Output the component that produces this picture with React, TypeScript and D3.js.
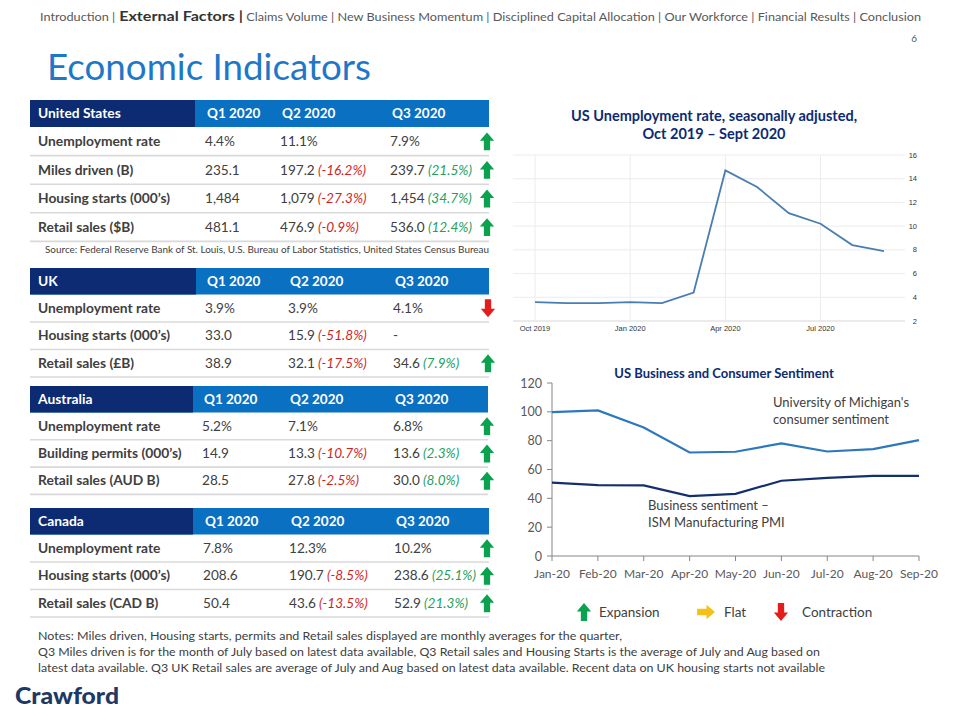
import React from 'react';
import * as d3 from 'd3';

// ---------------- DATA ----------------
const NAV_ITEMS = ['Introduction', 'External Factors', 'Claims Volume', 'New Business Momentum ', 'Disciplined Capital Allocation', 'Our Workforce', 'Financial Results', 'Conclusion'];
const NAV_ACTIVE = 'External Factors';
const PAGE_NUMBER = '6';
const TITLE = 'Economic Indicators';
const QUARTERS = ['Q1 2020', 'Q2 2020', 'Q3 2020'];

const US_NAME = 'United States';
const US_LABELS = ['Unemployment rate', 'Miles driven (B)', 'Housing starts (000\u2019s)', 'Retail sales ($B)'];
const US_Q1 = ['4.4%', '235.1', '1,484', '481.1'];
const US_Q2 = ['11.1%', '197.2', '1,079', '476.9'];
const US_Q2_CHG = ['', '(-16.2%)', '(-27.3%)', '(-0.9%)'];
const US_Q3 = ['7.9%', '239.7', '1,454', '536.0'];
const US_Q3_CHG = ['', '(21.5%)', '(34.7%)', '(12.4%)'];
const US_ARROWS = ['up', 'up', 'up', 'up'];
const US_SOURCE = 'Source: Federal Reserve Bank of St. Louis, U.S. Bureau of Labor Statistics, United States Census Bureau';

const UK_NAME = 'UK';
const UK_LABELS = ['Unemployment rate', 'Housing starts (000\u2019s)', 'Retail sales (\u00a3B)'];
const UK_Q1 = ['3.9%', '33.0', '38.9'];
const UK_Q2 = ['3.9%', '15.9', '32.1'];
const UK_Q2_CHG = ['', '(-51.8%)', '(-17.5%)'];
const UK_Q3 = ['4.1%', '-', '34.6'];
const UK_Q3_CHG = ['', '', '(7.9%)'];
const UK_ARROWS = ['down', '', 'up'];

const AU_NAME = 'Australia';
const AU_LABELS = ['Unemployment rate', 'Building permits (000\u2019s)', 'Retail sales (AUD B)'];
const AU_Q1 = ['5.2%', '14.9', '28.5'];
const AU_Q2 = ['7.1%', '13.3', '27.8'];
const AU_Q2_CHG = ['', '(-10.7%)', '(-2.5%)'];
const AU_Q3 = ['6.8%', '13.6', '30.0'];
const AU_Q3_CHG = ['', '(2.3%)', '(8.0%)'];
const AU_ARROWS = ['up', 'up', 'up'];

const CA_NAME = 'Canada';
const CA_LABELS = ['Unemployment rate', 'Housing starts (000\u2019s)', 'Retail sales (CAD B)'];
const CA_Q1 = ['7.8%', '208.6', '50.4'];
const CA_Q2 = ['12.3%', '190.7', '43.6'];
const CA_Q2_CHG = ['', '(-8.5%)', '(-13.5%)'];
const CA_Q3 = ['10.2%', '238.6', '52.9'];
const CA_Q3_CHG = ['', '(25.1%)', '(21.3%)'];
const CA_ARROWS = ['up', 'up', 'up'];

const UNEMP_TITLE = ['US Unemployment rate, seasonally adjusted,', 'Oct 2019 \u2013 Sept 2020'];
const UNEMP_MONTHS = ['Oct 2019', 'Nov 2019', 'Dec 2019', 'Jan 2020', 'Feb 2020', 'Mar 2020', 'Apr 2020', 'May 2020', 'Jun 2020', 'Jul 2020', 'Aug 2020', 'Sep 2020'];
const UNEMP_VALUES = [3.6, 3.5, 3.5, 3.6, 3.5, 4.4, 14.7, 13.3, 11.1, 10.2, 8.4, 7.9];
const UNEMP_TICK_MONTHS = ['Oct 2019', 'Jan 2020', 'Apr 2020', 'Jul 2020'];
const UNEMP_Y_TICKS = [2, 4, 6, 8, 10, 12, 14, 16];

const SENT_TITLE = 'US Business and Consumer Sentiment';
const SENT_MONTHS = ['Jan-20', 'Feb-20', 'Mar-20', 'Apr-20', 'May-20', 'Jun-20', 'Jul-20', 'Aug-20', 'Sep-20'];
const CONSUMER_SENTIMENT = [99.8, 101.0, 89.1, 71.8, 72.3, 78.1, 72.5, 74.1, 80.4];
const ISM_PMI = [50.9, 49.1, 49.0, 41.5, 43.1, 52.2, 54.2, 55.6, 55.6];
const SENT_Y_TICKS = [0, 20, 40, 60, 80, 100, 120];
const CONSUMER_LABEL = ["University of Michigan's", 'consumer sentiment'];
const PMI_LABEL = ['Business sentiment \u2013', 'ISM Manufacturing PMI'];

const LEGEND_ITEMS = [
  { kind: 'up', label: 'Expansion' },
  { kind: 'right', label: 'Flat' },
  { kind: 'down', label: 'Contraction' },
];

const NOTES = [
  'Notes:  Miles driven, Housing starts, permits and Retail sales displayed are monthly averages for the quarter,',
  'Q3 Miles driven is for the month  of July based on latest data available, Q3 Retail sales and Housing Starts is the average of July and Aug based on',
  'latest data available. Q3 UK  Retail sales are average of July and Aug based on latest data available. Recent  data on UK  housing starts not available',
];
const LOGO = 'Crawford';

// ---------------- STYLE ----------------
const FONT = 'Lato, "Open Sans", sans-serif';
const TEXT = '#404040';
const NAVY = '#0c2b72';
const BLUE = '#0a70c2';
const RED = '#d01f1f';
const GREEN = '#23a05f';
const ARROW_GREEN = '#0aa24e';
const ARROW_RED = '#e41c1c';
const ARROW_YELLOW = '#f3c118';

function Arrow({ kind, cx, cy, s = 1.05 }: { kind: string; cx: number; cy: number; s?: number }) {
  if (!kind) return null;
  const pts = [[0, -8.5], [6.8, -0.5], [3, -0.5], [3, 8.5], [-3, 8.5], [-3, -0.5], [-6.8, -0.5]];
  let rot = 0;
  let fill = ARROW_GREEN;
  if (kind === 'down') { rot = 180; fill = ARROW_RED; }
  if (kind === 'right') { rot = 90; fill = ARROW_YELLOW; }
  return (
    <polygon
      points={pts.map((p) => `${p[0] * s},${p[1] * s}`).join(' ')}
      transform={`translate(${cx},${cy}) rotate(${rot})`}
      fill={fill}
    />
  );
}

type TableProps = {
  name: string; labels: string[]; q1: string[]; q2: string[]; q2c: string[]; q3: string[]; q3c: string[]; arrows: string[];
  top: number; headerH: number; rowH: number; darkW: number; right: number; cols: number[]; arrowX: number;
};

function Table(p: TableProps) {
  const left = 30;
  const rows = p.labels.map((_, i) => i);
  const rowY = d3.scaleLinear().domain([0, 1]).range([p.top + p.headerH, p.top + p.headerH + p.rowH]);
  return (
    <g>
      <rect x={left} y={p.top} width={p.right - left} height={p.headerH} fill={BLUE} />
      <rect x={left} y={p.top} width={p.darkW} height={p.headerH} fill={NAVY} />
      <text x={38} y={p.top + p.headerH / 2 + 4.7} fill="#fff" fontWeight={700} fontSize={13.8}>{p.name}</text>
      {QUARTERS.map((q, i) => (
        <text key={q} x={p.cols[i] + 2} y={p.top + p.headerH / 2 + 4.7} fill="#fff" fontWeight={700} fontSize={13.5}>{q}</text>
      ))}
      {rows.map((i) => {
        const y0 = rowY(i);
        const cy = y0 + p.rowH / 2;
        return (
          <g key={i}>
            <line x1={left} x2={p.right} y1={y0 + p.rowH} y2={y0 + p.rowH} stroke="#d9d9d9" strokeWidth={1.6} />
            <text x={38} y={cy + 4.7} fill={TEXT} fontWeight={700} fontSize={13.8}>{p.labels[i]}</text>
            <text x={p.cols[0]} y={cy + 4.7} fill={TEXT} fontSize={13.6}>{p.q1[i]}</text>
            <text x={p.cols[1]} y={cy + 4.7} fill={TEXT} fontSize={13.6}>
              {p.q2[i]}
              {p.q2c[i] ? <tspan fill={RED} fontStyle="italic">{' ' + p.q2c[i]}</tspan> : null}
            </text>
            <text x={p.cols[2]} y={cy + 4.7} fill={TEXT} fontSize={13.6}>
              {p.q3[i]}
              {p.q3c[i] ? <tspan fill={GREEN} fontStyle="italic">{' ' + p.q3c[i]}</tspan> : null}
            </text>
            <Arrow kind={p.arrows[i]} cx={p.arrowX} cy={cy} />
          </g>
        );
      })}
    </g>
  );
}

function UnemploymentChart() {
  const x = d3.scalePoint<string>().domain(UNEMP_MONTHS).range([535, 884]);
  const y = d3.scaleLinear().domain([2, 16]).range([321, 155]);
  const line = d3.line<number>().x((_, i) => x(UNEMP_MONTHS[i]) as number).y((d) => y(d));
  return (
    <g>
      <text x={714} y={121} textAnchor="middle" fill={NAVY} fontWeight={700} fontSize={14.5}>{UNEMP_TITLE[0]}</text>
      <text x={714} y={139} textAnchor="middle" fill={NAVY} fontWeight={700} fontSize={14.5}>{UNEMP_TITLE[1]}</text>
      {UNEMP_Y_TICKS.map((t) => (
        <g key={t}>
          <line x1={513} x2={905} y1={y(t)} y2={y(t)} stroke={t === 2 ? '#d6d6d6' : '#ececec'} strokeWidth={1} />
          <text x={917} y={y(t) + 2.5} textAnchor="end" fontSize={7.5} fill="#333" fontFamily="Arial, sans-serif">{t}</text>
        </g>
      ))}
      {UNEMP_TICK_MONTHS.map((m) => (
        <g key={m}>
          <line x1={x(m)} x2={x(m)} y1={155} y2={321} stroke="#ececec" strokeWidth={1} />
          <text x={x(m)} y={331} textAnchor="middle" fontSize={7.5} fill="#333" fontFamily="Arial, sans-serif">{m}</text>
        </g>
      ))}
      <path d={line(UNEMP_VALUES) || ''} fill="none" stroke="#4a7eb0" strokeWidth={1.8} />
    </g>
  );
}

function SentimentChart() {
  const x = d3.scalePoint<string>().domain(SENT_MONTHS).range([552, 919]);
  const y = d3.scaleLinear().domain([0, 120]).range([556, 383]);
  const line = d3.line<number>().x((_, i) => x(SENT_MONTHS[i]) as number).y((d) => y(d));
  return (
    <g>
      <text x={724} y={378} textAnchor="middle" fill={NAVY} fontWeight={700} fontSize={13}>{SENT_TITLE}</text>
      <line x1={552} x2={552} y1={383} y2={556} stroke="#868686" strokeWidth={1} />
      <line x1={552} x2={919} y1={556} y2={556} stroke="#868686" strokeWidth={1} />
      {SENT_Y_TICKS.map((t) => (
        <g key={t}>
          <line x1={547} x2={552} y1={y(t)} y2={y(t)} stroke="#868686" />
          <text x={542} y={y(t) + 4.5} textAnchor="end" fontSize={12.5} fill="#595959">{t}</text>
        </g>
      ))}
      {SENT_MONTHS.map((m) => (
        <g key={m}>
          <line x1={x(m)} x2={x(m)} y1={556} y2={561} stroke="#868686" />
          <text x={x(m)} y={578} textAnchor="middle" fontSize={12} fill="#595959">{m}</text>
        </g>
      ))}
      <path d={line(CONSUMER_SENTIMENT) || ''} fill="none" stroke="#2c78be" strokeWidth={2.2} />
      <path d={line(ISM_PMI) || ''} fill="none" stroke="#14306b" strokeWidth={2.2} />
      <text x={773} y={407} fontSize={13} fill={TEXT}>{CONSUMER_LABEL[0]}</text>
      <text x={773} y={424} fontSize={13} fill={TEXT}>{CONSUMER_LABEL[1]}</text>
      <text x={648} y={510} fontSize={13} fill={TEXT}>{PMI_LABEL[0]}</text>
      <text x={648} y={527} fontSize={13} fill={TEXT}>{PMI_LABEL[1]}</text>
    </g>
  );
}

function Legend() {
  const xs = [584, 706, 781];
  return (
    <g>
      {LEGEND_ITEMS.map((it, i) => (
        <g key={it.label}>
          <Arrow kind={it.kind} cx={xs[i]} cy={612} />
          <text x={xs[i] + (it.kind === 'down' ? 21 : 15) + (it.kind === 'right' ? 3 : 0)} y={617} fontSize={13.5} fill={TEXT}>{it.label}</text>
        </g>
      ))}
    </g>
  );
}

export default function App() {
  return (
    <svg width={960} height={720} style={{ position: 'absolute', left: 0, top: 0, background: '#fff' }} fontFamily={FONT}>
      <rect width={960} height={720} fill="#fff" />
      <text x={40} y={21} fontSize={11} fill="#595959" textLength={881} lengthAdjust="spacingAndGlyphs">
        {NAV_ITEMS.map((n, i) => (
          <tspan key={n} fontWeight={n === NAV_ACTIVE ? 700 : 400} fontSize={n === NAV_ACTIVE ? 14 : 11} fill={n === NAV_ACTIVE ? '#333' : '#595959'}>
            {(i > 0 ? (n === NAV_ACTIVE ? ' ' : '  ') : '') + n + (i < NAV_ITEMS.length - 1 ? (n === NAV_ACTIVE ? '  |' : ' |') : '')}
          </tspan>
        ))}
      </text>
      <text x={917} y={42} fontSize={10} fill="#595959" textAnchor="end">{PAGE_NUMBER}</text>
      <text x={47} y={80} fontSize={36} fill="#1f77c8" textLength={324} lengthAdjust="spacingAndGlyphs">{TITLE}</text>

      <Table name={US_NAME} labels={US_LABELS} q1={US_Q1} q2={US_Q2} q2c={US_Q2_CHG} q3={US_Q3} q3c={US_Q3_CHG} arrows={US_ARROWS}
        top={100} headerH={27} rowH={28.6} darkW={165} right={489} cols={[205, 280, 390]} arrowX={487} />
      <text x={45} y={253} fontSize={9.5} fill={TEXT} textLength={444} lengthAdjust="spacingAndGlyphs">{US_SOURCE}</text>

      <Table name={UK_NAME} labels={UK_LABELS} q1={UK_Q1} q2={UK_Q2} q2c={UK_Q2_CHG} q3={UK_Q3} q3c={UK_Q3_CHG} arrows={UK_ARROWS}
        top={268} headerH={26.5} rowH={27.5} darkW={166} right={489} cols={[205, 288, 393]} arrowX={488} />
      <Table name={AU_NAME} labels={AU_LABELS} q1={AU_Q1} q2={AU_Q2} q2c={AU_Q2_CHG} q3={AU_Q3} q3c={AU_Q3_CHG} arrows={AU_ARROWS}
        top={386} headerH={26.5} rowH={27.3} darkW={163} right={488} cols={[202, 288, 393]} arrowX={487} />
      <Table name={CA_NAME} labels={CA_LABELS} q1={CA_Q1} q2={CA_Q2} q2c={CA_Q2_CHG} q3={CA_Q3} q3c={CA_Q3_CHG} arrows={CA_ARROWS}
        top={508} headerH={26.5} rowH={27.5} darkW={163} right={489} cols={[203, 289, 394]} arrowX={487} />

      <UnemploymentChart />
      <SentimentChart />
      <Legend />

      {NOTES.map((n, i) => (
        <text key={i} x={38} y={640 + i * 16} fontSize={11} fill={TEXT} textLength={[584, 782, 787][i]} lengthAdjust="spacingAndGlyphs">{n}</text>
      ))}
      <text x={15} y={704} fontSize={23} fontWeight={900} fill="#1f3864" textLength={104} lengthAdjust="spacingAndGlyphs">{LOGO}</text>
    </svg>
  );
}
